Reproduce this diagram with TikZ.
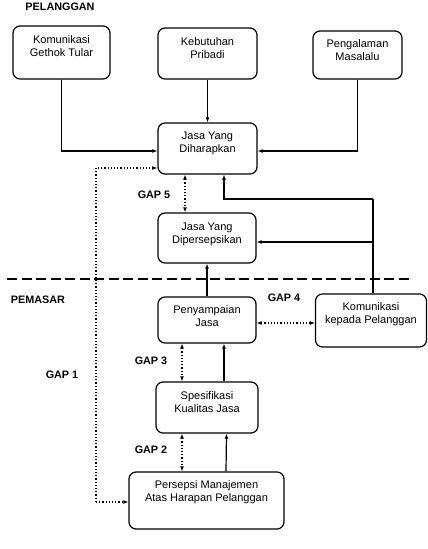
\documentclass[tikz,border=0pt]{standalone}
\usepackage{fontspec}
\setmainfont{Liberation Sans}
\usetikzlibrary{arrows.meta,calc}
\begin{document}
\begin{tikzpicture}[x=1pt,y=-1pt,
  box/.style={draw,rounded corners=7pt,line width=1.2pt,inner sep=0pt},
  txt/.style={align=center,font=\fontsize{11}{13}\selectfont,inner sep=0pt},
  lab/.style={font=\fontsize{10.8}{13}\selectfont\bfseries,inner sep=0pt},
  conn/.style={line width=1.2pt,-{Latex[length=5pt,width=4pt]}},
  gap/.style={line width=1.2pt,dotted,-{Latex[length=5pt,width=4pt]}},
  gapb/.style={line width=1.2pt,dotted,{Latex[length=5pt,width=4pt]}-{Latex[length=5pt,width=4pt]}}]
\useasboundingbox (0,0) rectangle (428,549);
% boxes
\node[box,minimum width=97pt,minimum height=53pt] (k1) at (61.5,52.5) {};
\node[box,minimum width=99pt,minimum height=51pt] (k2) at (207.5,53.5) {};
\node[box,minimum width=89pt,minimum height=48pt] (k3) at (357.5,55) {};
\node[box,minimum width=99pt,minimum height=51pt] (jd) at (207.5,148.5) {};
\node[box,minimum width=98pt,minimum height=50pt] (jp) at (207,238) {};
\node[box,minimum width=98pt,minimum height=46pt] (pj) at (207,320) {};
\node[box,minimum width=111pt,minimum height=53pt] (kp) at (371,320.5) {};
\node[box,minimum width=102pt,minimum height=51pt] (sk) at (207,407.5) {};
\node[box,minimum width=155pt,minimum height=57pt] (pm) at (206.5,500.5) {};
% texts
\node[txt] (k1t) at (61.5,46.5) {Komunikasi\\Gethok Tular};
\node[txt] (k2t) at (207.5,48) {Kebutuhan\\Pribadi};
\node[txt] (k3t) at (357.5,50.5) {Pengalaman\\Masalalu};
\node[txt] (jdt) at (207.5,143.5) {Jasa Yang\\Diharapkan};
\node[txt] (jpt) at (207,234.5) {Jasa Yang\\Dipersepsikan};
\node[txt] (pjt) at (207,316) {Penyampaian\\Jasa};
\node[txt] (kpt) at (371,314.5) {Komunikasi\\kepada Pelanggan};
\node[txt] (skt) at (207,402.5) {Spesifikasi\\Kualitas Jasa};
\node[txt] (pmt) at (206.5,492.5) {Persepsi Manajemen\\Atas Harapan Pelanggan};
% labels
\node[lab] (pel) at (60,7) {PELANGGAN};
\node[lab] (pem) at (38,300) {PEMASAR};
\node[lab] (g5) at (154,195) {GAP 5};
\node[lab] (g4) at (284,298) {GAP 4};
\node[lab] (g3) at (151,361) {GAP 3};
\node[lab] (g1) at (62,375) {GAP 1};
\node[lab] (g2) at (151,450) {GAP 2};
% dashed divider
\coordinate (dl) at (7,279);
\coordinate (dr) at (412,279);
\draw[line width=2.8pt,dash pattern=on 10pt off 4.5pt] (dl) -- (dr);
% solid connectors
\draw[conn] (k1.south) |- ([yshift=-2.5pt]jd.west);
\draw[conn] (k2.south) -- (jd.north);
\draw[conn] (k3.south) |- ([yshift=-2.5pt]jd.east);
\coordinate (kv1) at (373,199);
\coordinate (kv2) at (373,242);
\draw[line width=1.2pt] (kp.north -| kv1) -- (kv1);
\draw[conn] (kv1) -| ([xshift=16.5pt]jd.south);
\draw[conn] (kv2) -- (kv2 -| jp.east);
\draw[conn] (pj.north) -- (jp.south);
\draw[conn] ([xshift=17pt]sk.north) -- ([xshift=17pt]pj.south);
\draw[conn] ([xshift=19.5pt]pm.north) -- ([xshift=19.5pt]sk.south);
% gaps
\draw[gapb] ([xshift=-22.5pt]jd.south) -- ([xshift=-22pt]jp.north);
\draw[gapb] (pj.east |- 0,323) -- (kp.west |- 0,323);
\draw[gapb] ([xshift=-25pt]pj.south) -- ([xshift=-25pt]sk.north);
\draw[gapb] ([xshift=-25pt]sk.south) -- ([xshift=-24.5pt]pm.north);
\coordinate (g1t) at (96,168);
\coordinate (g1b) at (96,502);
\draw[gap] (g1b) -- (g1t) -- (g1t -| jd.west);
\draw[gap] (g1b) -- (g1b -| pm.west);
\end{tikzpicture}
\end{document}
